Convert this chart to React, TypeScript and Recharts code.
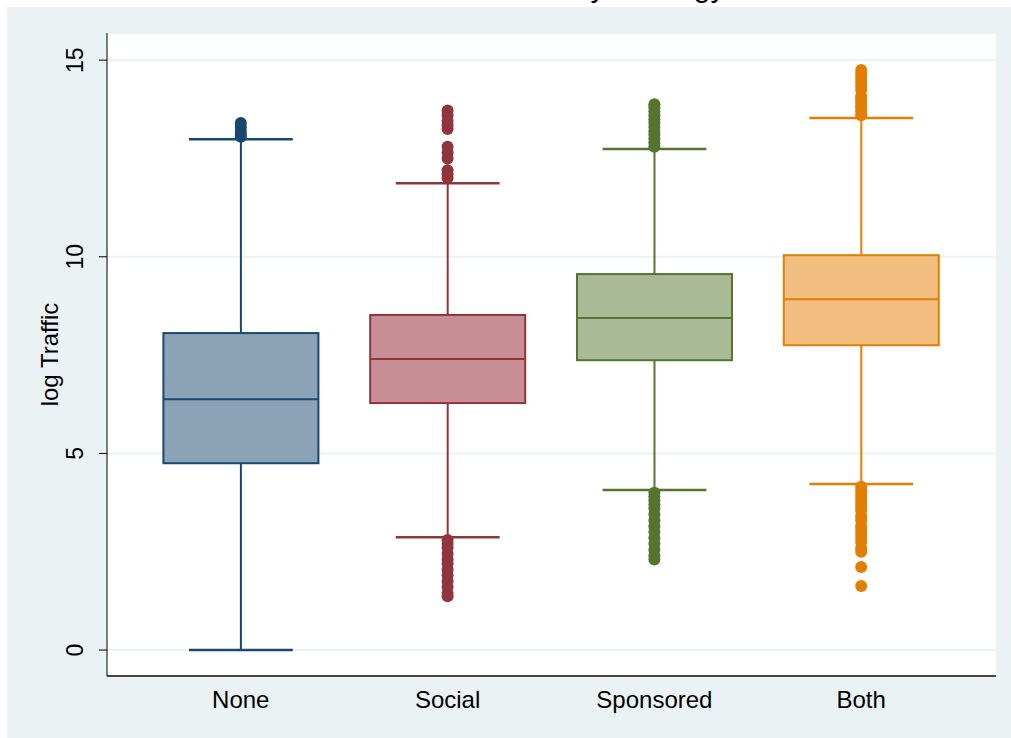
import React from "react";
import { ComposedChart, Bar, Scatter, XAxis, YAxis, CartesianGrid } from "recharts";

// box plot summary
const categories = ["None", "Social", "Sponsored", "Both"];
const whiskerLow = [0, 2.87, 4.07, 4.22];
const lowerQuartile = [4.75, 6.28, 7.37, 7.75];
const medians = [6.38, 7.4, 8.44, 8.92];
const upperQuartile = [8.06, 8.52, 9.56, 10.04];
const whiskerHigh = [12.99, 11.87, 12.74, 13.53];

// outside values
const outliersNone = [13.05, 13.12, 13.2, 13.3, 13.4];
const outliersSocial = [
  12.0, 12.1, 12.2, 12.5, 12.65, 12.8, 13.25, 13.35, 13.45, 13.6, 13.72,
  2.8, 2.7, 2.6, 2.45, 2.3, 2.2, 2.05, 1.9, 1.75, 1.6, 1.45, 1.37,
];
const outliersSponsored = [
  12.8, 12.9, 13.0, 13.1, 13.2, 13.3, 13.4, 13.5, 13.6, 13.7, 13.8, 13.88,
  4.0, 3.9, 3.8, 3.7, 3.6, 3.45, 3.3, 3.15, 3.0, 2.85, 2.7, 2.55, 2.4, 2.3,
];
const outliersBoth = [
  13.6, 13.7, 13.8, 13.9, 14.0, 14.08, 14.25, 14.35, 14.45, 14.55, 14.65, 14.75,
  4.15, 4.05, 3.95, 3.85, 3.75, 3.65, 3.55, 3.4, 3.3, 3.15, 3.05, 2.95, 2.85,
  2.75, 2.6, 2.5, 2.11, 1.63,
];
const outlierLists = [outliersNone, outliersSocial, outliersSponsored, outliersBoth];

const yTicks = [0, 5, 10, 15];

const STROKES = ["#1a476f", "#90353b", "#55752f", "#e37e00"];
const FILLS = ["#8ca3b7", "#c78f95", "#aab996", "#f1be80"];

const FONT = "'Liberation Sans', Arial, sans-serif";

const boxData = categories.map((name, i) => ({
  pos: i + 1,
  name,
  lo: whiskerLow[i],
  q1: lowerQuartile[i],
  med: medians[i],
  q3: upperQuartile[i],
  hi: whiskerHigh[i],
  stroke: STROKES[i],
  fill: FILLS[i],
}));

const BoxShape = (props: any) => {
  const { x, y, width, height, payload } = props;
  if (x == null || y == null) return null;
  const top = Math.min(y, y + height);
  const h = Math.abs(height);
  const { lo, q1, med, q3, hi, stroke, fill } = payload;
  const ppu = h / (hi - lo);
  const py = (v: number) => top + (hi - v) * ppu;
  const cx = x + width / 2;
  const cap = width * 0.67;
  return (
    <g>
      <line x1={cx} x2={cx} y1={py(hi)} y2={py(q3)} stroke={stroke} strokeWidth={2} />
      <line x1={cx} x2={cx} y1={py(q1)} y2={py(lo)} stroke={stroke} strokeWidth={2} />
      <line x1={cx - cap / 2} x2={cx + cap / 2} y1={py(hi)} y2={py(hi)} stroke={stroke} strokeWidth={2.5} />
      <line x1={cx - cap / 2} x2={cx + cap / 2} y1={py(lo)} y2={py(lo)} stroke={stroke} strokeWidth={2.5} />
      <rect x={x} y={py(q3)} width={width} height={py(q1) - py(q3)} fill={fill} stroke={stroke} strokeWidth={2} />
      <line x1={x} x2={x + width} y1={py(med)} y2={py(med)} stroke={stroke} strokeWidth={2} />
    </g>
  );
};

const YTick = (props: any) => {
  const { x, y, payload } = props;
  const bx = x - 14;
  return (
    <text x={bx} y={y} transform={`rotate(-90, ${bx}, ${y})`} textAnchor="middle"
      fontSize={23} fontFamily={FONT} fill="#000">
      {payload.value}
    </text>
  );
};

const XTick = (props: any) => {
  const { x, y, payload } = props;
  return (
    <text x={x} y={y + 24} textAnchor="middle" fontSize={24} fontFamily={FONT} fill="#000">
      {categories[payload.value - 1]}
    </text>
  );
};

const YLabel = (props: any) => {
  const vb = props.viewBox || { x: 7, y: 33, width: 100, height: 643 };
  const lx = vb.x + 51;
  const ly = vb.y + vb.height / 2;
  return (
    <text x={lx} y={ly} transform={`rotate(-90, ${lx}, ${ly})`} textAnchor="middle"
      fontSize={24} fontFamily={FONT} fill="#000">
      log Traffic
    </text>
  );
};

export default function App() {
  return (
    <div style={{ position: "absolute", left: 0, top: 0, width: 1011, height: 738, background: "#ffffff", overflow: "hidden" }}>
      <div style={{ position: "absolute", left: 7, top: 7, width: 1004, height: 731, background: "#eaf2f3" }} />
      <svg width={1011} height={7} style={{ position: "absolute", left: 0, top: 0 }}>
        <text x={509} y={-3} textAnchor="middle" fontSize={30} fontFamily={FONT} fill="#000">
          Distribution of Traffic by Strategy
        </text>
      </svg>
      <div style={{ position: "absolute", left: 0, top: 0 }}>
        <ComposedChart width={1011} height={738} data={boxData}
          margin={{ top: 33, right: 15, bottom: 22, left: 7 }}>
          <CartesianGrid horizontal vertical={false} stroke="#eaf2f3" strokeWidth={2} fill="#ffffff" fillOpacity={1} />
          <XAxis dataKey="pos" type="number" domain={[0.353, 4.652]} allowDataOverflow ticks={[1, 2, 3, 4]}
            height={40} tickLine={false} tickSize={0} tickMargin={8} tick={<XTick />}
            axisLine={{ stroke: "#444", strokeWidth: 2 }} />
          <YAxis type="number" domain={[-0.66, 15.69]} allowDataOverflow ticks={yTicks} width={100}
            tickSize={8} tickMargin={2} tick={<YTick />}
            tickLine={{ stroke: "#000" }} axisLine={{ stroke: "#000", strokeWidth: 1 }}
            label={<YLabel />} />
          <Bar dataKey={(d: any) => [d.lo, d.hi]} barSize={155} shape={<BoxShape />} isAnimationActive={false} />
          {outlierLists.map((list, i) => (
            <Scatter key={categories[i]} data={list.map((v) => ({ pos: i + 1, value: v }))} dataKey="value"
              isAnimationActive={false}
              shape={(p: any) => <circle cx={p.cx} cy={p.cy} r={6} fill={STROKES[i]} />} />
          ))}
        </ComposedChart>
      </div>
    </div>
  );
}
